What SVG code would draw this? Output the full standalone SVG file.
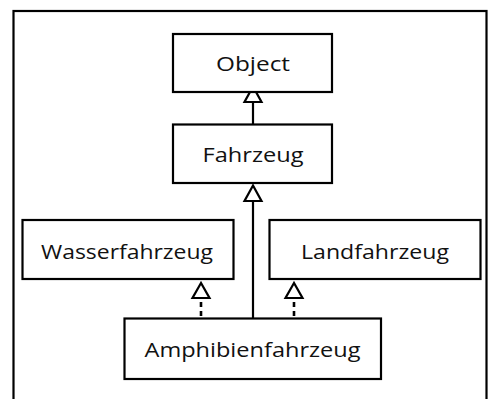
<svg xmlns="http://www.w3.org/2000/svg" width="489" height="399" viewBox="0 0 489 399">
  <style>
    .box { fill: #ffffff; stroke: #000000; stroke-width: 2.2; }
    .lbl { font-family: "Open Sans", "Liberation Sans", sans-serif; font-size: 20px; font-weight: 400; fill: #111111; text-anchor: middle; }
    .edge { stroke: #000000; stroke-width: 2.2; fill: none; }
    .dash { stroke-width: 2.6; stroke-dasharray: 5 4; }
    .head { fill: #ffffff; stroke: #000000; stroke-width: 2.2; stroke-linejoin: miter; }
  </style>
  <rect x="0" y="0" width="489" height="399" fill="#ffffff"/>
  <!-- outer frame, bottom edge runs past the canvas -->
  <rect x="13.5" y="11" width="473" height="400" fill="none" stroke="#000000" stroke-width="2.2"/>

  <g id="connectors">
    <!-- Fahrzeug extends Object -->
    <line class="edge" x1="253" y1="102" x2="253" y2="124"/>
    <polygon class="head" points="253,86.5 244.5,102 261.5,102"/>
    <!-- Amphibienfahrzeug extends Fahrzeug -->
    <line class="edge" x1="253" y1="201" x2="253" y2="318"/>
    <polygon class="head" points="253,185.5 244.5,201 261.5,201"/>
    <!-- Amphibienfahrzeug implements Wasserfahrzeug -->
    <line class="edge dash" x1="201" y1="302" x2="201" y2="318"/>
    <polygon class="head" points="201,283 192.5,298 209.5,298"/>
    <!-- Amphibienfahrzeug implements Landfahrzeug -->
    <line class="edge dash" x1="294" y1="302" x2="294" y2="318"/>
    <polygon class="head" points="294,283 285.5,298 302.5,298"/>
  </g>

  <g id="object">
    <rect class="box" x="173" y="34" width="159" height="58"/>
    <text class="lbl" x="253" y="71" textLength="74" lengthAdjust="spacingAndGlyphs">Object</text>
  </g>
  <g id="fahrzeug">
    <rect class="box" x="173" y="124.5" width="159" height="58.5"/>
    <text class="lbl" x="253" y="161.5" textLength="101" lengthAdjust="spacingAndGlyphs">Fahrzeug</text>
  </g>
  <g id="wasserfahrzeug">
    <rect class="box" x="22.5" y="220" width="211" height="59"/>
    <text class="lbl" x="127" y="259" textLength="172" lengthAdjust="spacingAndGlyphs">Wasserfahrzeug</text>
  </g>
  <g id="landfahrzeug">
    <rect class="box" x="269.5" y="220" width="211" height="59"/>
    <text class="lbl" x="375" y="259" textLength="148" lengthAdjust="spacingAndGlyphs">Landfahrzeug</text>
  </g>
  <g id="amphibienfahrzeug">
    <rect class="box" x="124.5" y="318.5" width="256.5" height="60.5"/>
    <text class="lbl" x="252.5" y="356.5" textLength="216" lengthAdjust="spacingAndGlyphs">Amphibienfahrzeug</text>
  </g>
</svg>
